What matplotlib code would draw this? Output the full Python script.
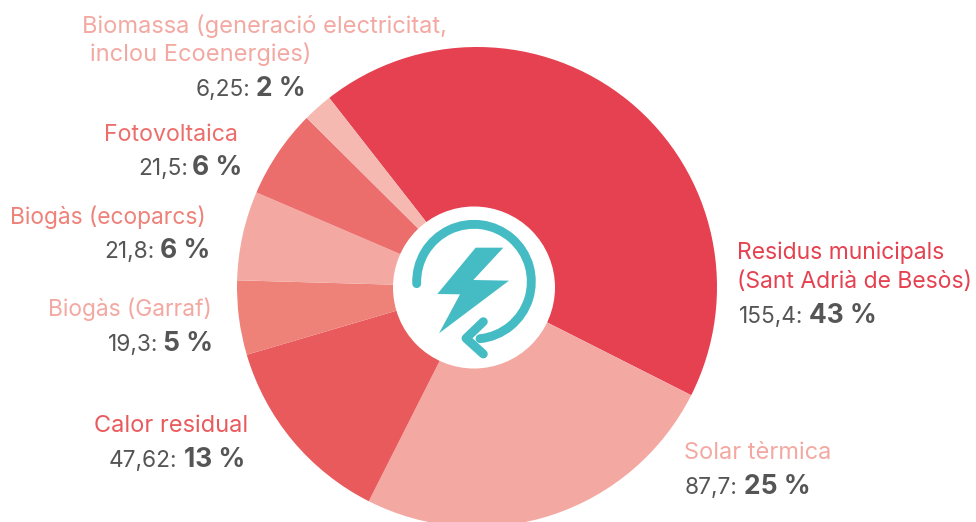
import matplotlib
matplotlib.use("Agg")
import matplotlib.pyplot as plt
from matplotlib.patches import Circle, Polygon, Arc

W, H = 976, 522
shares = [43, 25, 13, 5, 6, 6, 2]
colors = ['#E54150', '#F3A9A2', '#E95A5C', '#EE8279', '#F3A9A2', '#EC6E6C', '#F5B9B2']
label_colors = ['#E54150', '#F3A9A2', '#E95A5C', '#F3A9A2', '#EE8279', '#EC6E6C', '#F3A9A2']
labels = [['Residus municipals', '(Sant Adrià de Besòs)'], ['Solar tèrmica'], ['Calor residual'],
          ['Biogàs (Garraf)'], ['Biogàs (ecoparcs)'], ['Fotovoltaica'],
          ['Biomassa (generació electricitat,', 'inclou Ecoenergies)']]
amounts = ['155,4:', '87,7:', '47,62:', '19,3:', '21,8:', '21,5:', '6,25:']
percents = ['43 %', '25 %', '13 %', '5 %', '6 %', '6 %', '2 %']

# per label: left/right x of name lines, baselines, value row
name_x = [[737, 737], [684], [248], [212], [206], [238], [82, 90]]
name_ha = ['left', 'left', 'right', 'right', 'right', 'right', 'left']
name_y = [[259, 288], [459], [432], [316], [224], [141], [33, 61]]
name_fs = [16.5, 17, 17, 16.4, 16.4, 16.7, 17]
amount_x = [803, 738, 177, 158, 155, 188, 250]
percent_x = [809, 744, 184, 163, 160, 192, 256]
value_y = [323, 494, 467, 351, 258, 175, 96]

plt.rcParams['font.family'] = ['Inter', 'DejaVu Sans']
fig = plt.figure(figsize=(W / 100, H / 100), dpi=100)
ax = fig.add_axes([0, 0, 1, 1])
ax.pie(shares, colors=colors, startangle=128, counterclock=False,
       center=(477, H - 287), radius=240, frame=True)
ax.set_xlim(0, W)
ax.set_ylim(0, H)
ax.set_aspect('equal')
ax.axis('off')

TEAL = '#45BCC4'
ax.add_patch(Circle((474, H - 287.5), 81, fc='white', ec='none', zorder=3))


def zx(x):
    return 390 + x / 3


def zy(y):
    return H - (200 + y / 3)


bolt_x = [257, 340, 250, 357, 147, 210, 142]
bolt_y = [143, 143, 240, 242, 400, 283, 282]
ax.add_patch(Polygon(list(zip(map(zx, bolt_x), map(zy, bolt_y))), fc=TEAL, ec='none', zorder=4))
ax.add_patch(Arc((zx(252), zy(245)), 344 / 3, 344 / 3, theta1=-84, theta2=182, ec=TEAL, lw=6.4,
                 capstyle='round', zorder=4))
head_x = [280, 228, 280]
head_y = [365, 415, 462]
ax.plot(list(map(zx, head_x)), list(map(zy, head_y)), color=TEAL, lw=6.4,
        solid_capstyle='round', solid_joinstyle='round', zorder=4)

for i, lines in enumerate(labels):
    for line, x, y in zip(lines, name_x[i], name_y[i]):
        ax.text(x, H - y, line, color=label_colors[i], fontsize=name_fs[i], ha=name_ha[i], va='baseline')
    ax.text(amount_x[i], H - value_y[i], amounts[i], color='#555555', fontsize=16.3,
            ha='right', va='baseline')
    ax.text(percent_x[i], H - value_y[i], percents[i], color='#555555', fontsize=19,
            fontweight='bold', ha='left', va='baseline')

fig.savefig('out.png', dpi=100)
